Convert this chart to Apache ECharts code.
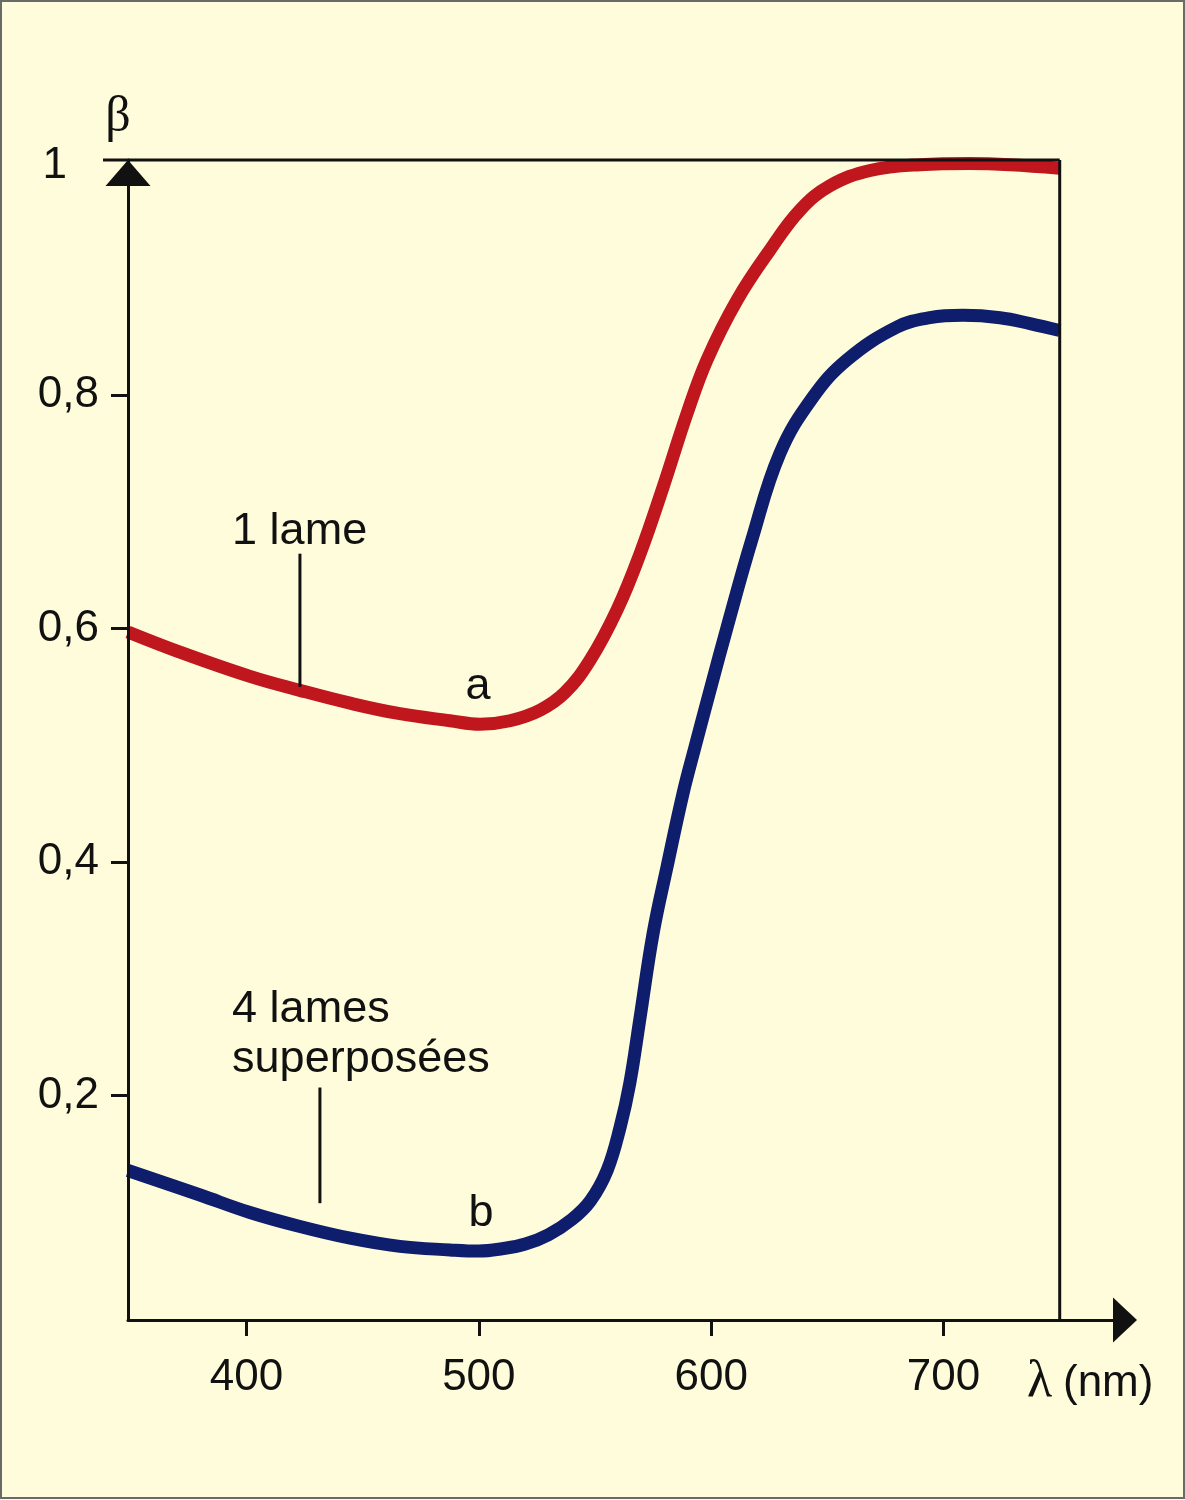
<!DOCTYPE html>
<html>
<head>
<meta charset="utf-8">
<script src="https://cdn.jsdelivr.net/npm/echarts@6/dist/echarts.min.js"></script>
<style>
html,body{margin:0;padding:0;background:#FEFCDA;}
#c{width:1185px;height:1500px;}
</style>
</head>
<body>
<div id="c"></div>
<script>
// ---- data (wavelength in nm, beta) ----
const wavelengthA = [349, 371, 401.5, 423, 444.6, 466, 487.6, 500.5, 513.4, 526.3, 537, 547.9, 559.5, 569.4, 579.3, 589.6, 598.2, 611.1, 625.3, 638.2, 651.2, 668.4, 689.9, 711.4, 728.6, 750];
const betaA = [0.597, 0.580, 0.559, 0.547, 0.536, 0.527, 0.521, 0.518, 0.521, 0.530, 0.545, 0.573, 0.616, 0.664, 0.721, 0.784, 0.830, 0.881, 0.924, 0.958, 0.979, 0.992, 0.997, 0.998, 0.997, 0.994];

const wavelengthB = [349, 380, 401.5, 423, 444.6, 466, 487.6, 500, 510, 520, 530, 540, 548, 555.2, 560.8, 565, 569.4, 575, 581, 587.9, 593.1, 600.3, 606.7, 617.5, 629.6, 643.8, 658.5, 680, 694.2, 708.4, 724.3, 737.2, 750];
const betaB = [0.136, 0.115, 0.100, 0.088, 0.078, 0.071, 0.068, 0.067, 0.069, 0.073, 0.081, 0.094, 0.110, 0.136, 0.173, 0.211, 0.267, 0.339, 0.396, 0.459, 0.499, 0.553, 0.600, 0.676, 0.750, 0.798, 0.830, 0.858, 0.866, 0.868, 0.866, 0.861, 0.855];

const xTicks = [400, 500, 600, 700];
const yTicks = [0.2, 0.4, 0.6, 0.8];
const yLabels = [0.2, 0.4, 0.6, 0.8, 1];

const labelA = '1 lame';
const labelB1 = '4 lames';
const labelB2 = 'superposées';
const curveA = 'a';
const curveB = 'b';

// ---- layout ----
const X_MIN = 349, X_MAX = 778.1, X_END = 750;
const Y_MIN = 0.008, Y_MAX = 1.001;
const FONT = '"Liberation Sans", Arial, sans-serif';
const SERIF = '"Liberation Serif", "Times New Roman", serif';
const INK = '#111111';
const RED = '#BF171D';
const BLUE = '#0E1D6C';

const chart = echarts.init(document.getElementById('c'), null, {renderer: 'canvas'});

const zip = (xs, ys) => xs.map((x, i) => [x, ys[i]]);

chart.setOption({
  backgroundColor: '#FEFCDA',
  animation: false,
  grid: {left: 128, top: 160, right: 60, bottom: 180, containLabel: false},
  xAxis: {
    type: 'value', min: X_MIN, max: X_MAX, z: 10,
    axisLine: {show: true, symbol: ['none', 'triangle'], symbolSize: [45, 24], lineStyle: {color: INK, width: 3}},
    axisTick: {show: true, customValues: xTicks, length: 16, lineStyle: {color: INK, width: 3}},
    axisLabel: {show: true, customValues: xTicks, margin: 36, fontSize: 44, fontFamily: FONT, color: INK},
    splitLine: {show: false}
  },
  yAxis: {
    type: 'value', min: Y_MIN, max: Y_MAX, z: 10,
    axisLine: {show: true, symbol: ['none', 'triangle'], symbolSize: [45, 26], symbolOffset: [0, -13], lineStyle: {color: INK, width: 3}},
    axisTick: {show: true, customValues: yTicks, length: 17, lineStyle: {color: INK, width: 3}},
    axisLabel: {
      show: true, customValues: yLabels, margin: 29, fontSize: 44, fontFamily: FONT, color: INK,
      formatter: v => (Math.abs(v - 1) < 1e-9 ? '{one|1}' : v.toFixed(1).replace('.', ',')),
      rich: {one: {fontSize: 44, fontFamily: FONT, color: INK, padding: [10, 32, 0, 0]}}
    },
    splitLine: {show: false}
  },
  series: [
    {type: 'line', data: zip(wavelengthA, betaA), smooth: 0.4, showSymbol: false, z: 2,
     lineStyle: {color: RED, width: 13, cap: 'butt'}},
    {type: 'line', data: zip(wavelengthB, betaB), smooth: 0.4, showSymbol: false, z: 2,
     lineStyle: {color: BLUE, width: 13, cap: 'butt'}}
  ]
});

// ---- decorations positioned from data coordinates ----
const P = (x, y) => chart.convertToPixel({gridIndex: 0}, [x, y]);
const origin = P(X_MIN, Y_MIN);
const topLeft = P(X_MIN, Y_MAX);
const topRight = P(X_END, Y_MAX);
const botRight = P(X_END, Y_MIN);

function text(t, pos, opts) {
  return {
    type: 'text', x: pos[0], y: pos[1], z: 50,
    style: Object.assign({text: t, fontSize: 45, fontFamily: FONT, fill: INK, textAlign: 'left', textVerticalAlign: 'middle', align: 'left', verticalAlign: 'middle'}, opts || {})
  };
}
function line(a, b) {
  return {type: 'line', z: 50, shape: {x1: a[0], y1: a[1], x2: b[0], y2: b[1]}, style: {stroke: INK, lineWidth: 3}};
}

const annotations = {
  labelA: [393.8, 0.683],
  leaderA: [[423.0, 0.664], [423.0, 0.550]],
  curveA: [499.6, 0.5505],
  labelB1: [393.8, 0.274],
  labelB2: [393.8, 0.231],
  leaderB: [[431.6, 0.207], [431.6, 0.108]],
  curveB: [500.9, 0.0993]
};

chart.setOption({
  graphic: [
    {type: 'rect', z: 60, shape: {x: 1, y: 1, width: 1183, height: 1497}, style: {fill: 'none', stroke: '#6a6a6a', lineWidth: 2}},
    line([topLeft[0] - 25, topLeft[1]], topRight),
    line(topRight, botRight),
    text('β', [topLeft[0] - 10, topLeft[1] - 42], {fontFamily: SERIF, fontSize: 50, textAlign: 'center', align: 'center'}),
    text('λ', [origin[0] + 899, origin[1] + 62], {fontFamily: SERIF, fontSize: 52}),
    text('(nm)', [origin[0] + 935, origin[1] + 64], {fontSize: 44}),
    text(labelA, P(...annotations.labelA)),
    line(P(...annotations.leaderA[0]), P(...annotations.leaderA[1])),
    text(curveA, P(...annotations.curveA), {textAlign: 'center', align: 'center'}),
    text(labelB1, P(...annotations.labelB1)),
    text(labelB2, P(...annotations.labelB2)),
    line(P(...annotations.leaderB[0]), P(...annotations.leaderB[1])),
    text(curveB, P(...annotations.curveB), {textAlign: 'center', align: 'center'})
  ]
});
</script>
</body>
</html>
